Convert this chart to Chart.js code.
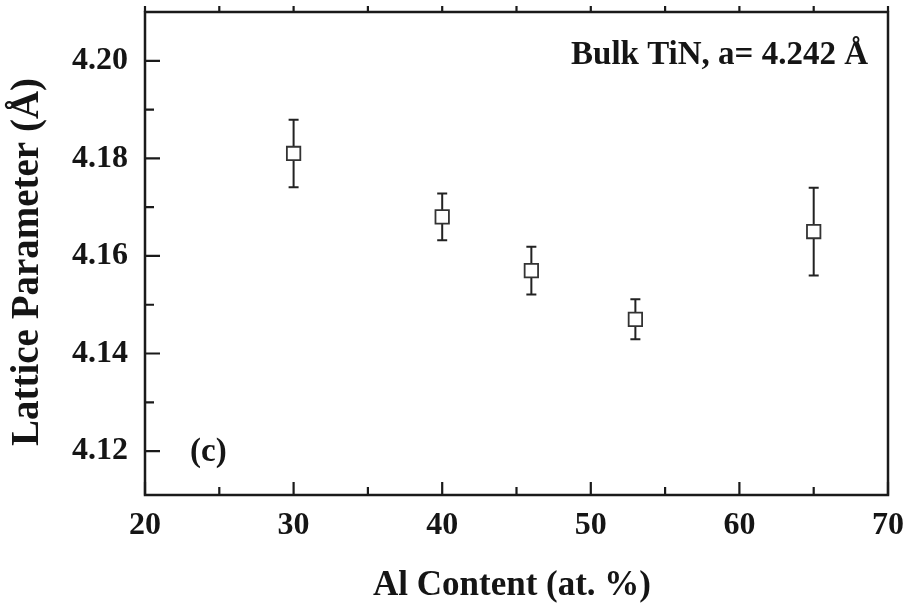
<!DOCTYPE html>
<html>
<head>
    <title>Lattice Parameter vs Al Content</title>
    <script src="https://cdn.jsdelivr.net/npm/chart.js"></script>
    <style>
      body { margin: 0; background: #fff; }
    </style>
</head>
<body>
<canvas id="latticeChart" width="908" height="607"></canvas>

<script>
    // Measured data: Al content (at. %) vs cubic lattice parameter (Å)
    const alContent = [30, 40, 46, 53, 65];
    const latticeParam = [4.181, 4.168, 4.157, 4.147, 4.165];
    const latticeErr = [0.0069, 0.0048, 0.0049, 0.0041, 0.0090];

    const xTicks = [20, 30, 40, 50, 60, 70];
    const yTicks = [4.12, 4.14, 4.16, 4.18, 4.20];

    const serif = "'Liberation Serif', 'Times New Roman', serif";
    const ink = '#151515';

    // Error bars go under the hollow squares
    const errorBars = {
      id: 'errorBars',
      beforeDatasetsDraw(chart) {
        const {ctx, scales: {x, y}} = chart;
        ctx.save();
        ctx.strokeStyle = '#222';
        ctx.lineWidth = 2;
        alContent.forEach((xv, i) => {
          const px = x.getPixelForValue(xv);
          const top = y.getPixelForValue(latticeParam[i] + latticeErr[i]);
          const bot = y.getPixelForValue(latticeParam[i] - latticeErr[i]);
          ctx.beginPath();
          ctx.moveTo(px, top); ctx.lineTo(px, bot);
          ctx.moveTo(px - 5, top); ctx.lineTo(px + 5, top);
          ctx.moveTo(px - 5, bot); ctx.lineTo(px + 5, bot);
          ctx.stroke();
        });
        ctx.restore();
      }
    };

    // Frame with inward ticks (left/bottom), small outward ticks on top, and text
    const frame = {
      id: 'frame',
      afterDraw(chart) {
        const {ctx, chartArea: a, scales: {x, y}} = chart;
        ctx.save();
        ctx.strokeStyle = '#1a1a1a';
        ctx.lineWidth = 2.5;
        ctx.strokeRect(a.left, a.top, a.right - a.left, a.bottom - a.top);

        ctx.lineWidth = 2.2;
        ctx.beginPath();
        for (let v = 20; v <= 70; v += 5) {
          const px = x.getPixelForValue(v);
          const len = v % 10 === 0 ? 13 : 8;
          ctx.moveTo(px, a.bottom); ctx.lineTo(px, a.bottom - len);
          ctx.moveTo(px, a.top); ctx.lineTo(px, a.top - 6);
        }
        for (let k = 12; k <= 20; k++) {
          const py = y.getPixelForValue(4 + k / 100);
          const len = k % 2 === 0 ? 15 : 9;
          ctx.moveTo(a.left, py); ctx.lineTo(a.left + len, py);
        }
        ctx.stroke();

        ctx.fillStyle = ink;
        ctx.font = 'bold 35px ' + serif;
        ctx.textAlign = 'center';
        ctx.textBaseline = 'alphabetic';
        ctx.fillText('Al Content (at. %)', 512, 595);

        ctx.save();
        ctx.translate(28, 262);
        ctx.rotate(-Math.PI / 2);
        ctx.font = 'bold 39px ' + serif;
        ctx.textBaseline = 'middle';
        ctx.fillText('Lattice Parameter (Å)', 0, 0);
        ctx.restore();

        ctx.font = 'bold 33px ' + serif;
        ctx.textAlign = 'right';
        ctx.fillText('Bulk TiN, a= 4.242 Å', a.right - 20, 64);

        ctx.font = 'bold 33px ' + serif;
        ctx.textAlign = 'left';
        ctx.fillText('(c)', a.left + 45, 461);
        ctx.restore();
      }
    };

    new Chart(document.getElementById('latticeChart').getContext('2d'), {
      type: 'scatter',
      data: {
        datasets: [{
          data: alContent.map((v, i) => ({x: v, y: latticeParam[i]})),
          pointStyle: 'rect',
          pointRadius: 9.5,
          pointHoverRadius: 9.5,
          borderWidth: 1.8,
          borderColor: '#333',
          backgroundColor: '#fff'
        }]
      },
      options: {
        responsive: false,
        animation: false,
        layout: { padding: { top: 12, right: 20, left: 0, bottom: 0 } },
        plugins: { legend: { display: false }, tooltip: { enabled: false } },
        scales: {
          x: {
            type: 'linear',
            min: 20, max: 70,
            afterFit: s => { s.height = 112; s.paddingLeft = 0; s.paddingRight = 0; },
            afterBuildTicks: s => { s.ticks = xTicks.map(value => ({value})); },
            grid: { display: false, drawTicks: false },
            border: { display: false },
            ticks: {
              padding: 12,
              color: ink,
              font: { family: serif, weight: 'bold', size: 32 },
              callback: v => String(v)
            }
          },
          y: {
            min: 4.111, max: 4.21,
            afterFit: s => { s.width = 145; s.paddingTop = 0; s.paddingBottom = 0; },
            afterBuildTicks: s => { s.ticks = yTicks.map(value => ({value})); },
            grid: { display: false, drawTicks: false },
            border: { display: false },
            ticks: {
              padding: 17,
              color: ink,
              font: { family: serif, weight: 'bold', size: 32 },
              callback: v => v.toFixed(2)
            }
          }
        }
      },
      plugins: [errorBars, frame]
    });
</script>
</body>
</html>
